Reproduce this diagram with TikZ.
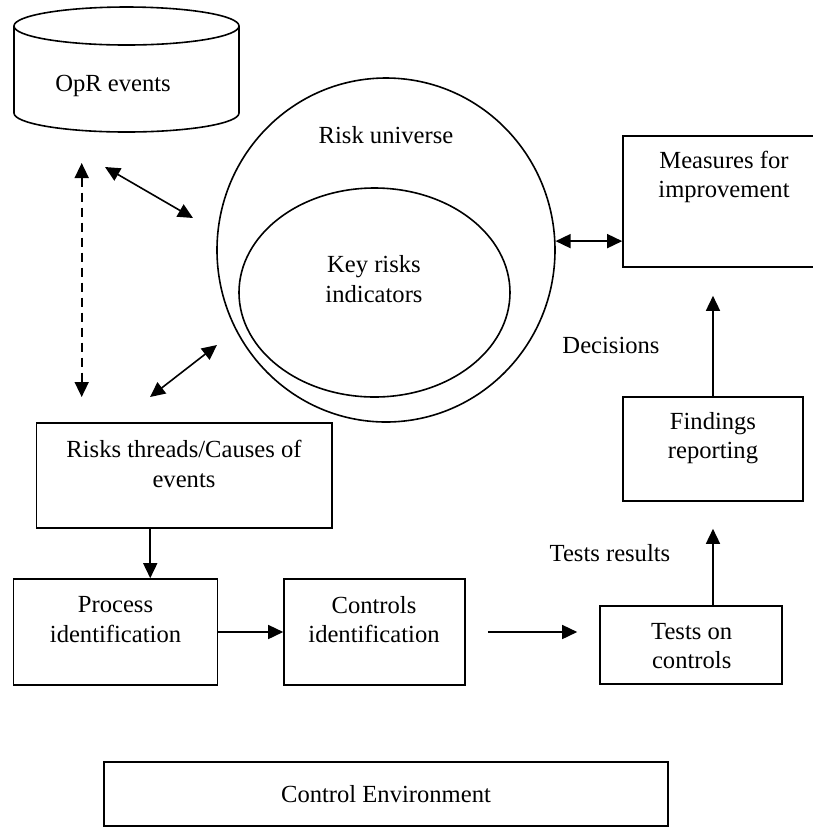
\documentclass[tikz,border=0pt]{standalone}
\usepackage{fontspec}
\setmainfont{Liberation Serif}
\usepackage{tikz}
\usetikzlibrary{shapes,arrows.meta,positioning,calc}
\usepackage{xcolor}

\tikzset{
    box/.style={draw, line width=0.8pt, inner sep=0pt},
    txt/.style={font=\fontsize{12.3}{14.8}\selectfont, align=center, inner sep=0pt},
    link/.style={line width=0.8pt, -{Triangle[length=7.5pt,width=7pt]}},
    dlink/.style={line width=0.8pt, {Triangle[length=7.5pt,width=7pt]}-{Triangle[length=7.5pt,width=7pt]}}
}

\begin{document}
\begin{tikzpicture}[x=0.5pt, y=-0.5pt]
                    \useasboundingbox (0,0) rectangle (813,827);
                    \clip (0,0) rectangle (813,827);
                    % database
                    \draw[line width=0.8pt] (14,26) -- (14,113) arc[start angle=180, end angle=0, x radius=112.5, y radius=19] -- (239,26);
                    \draw[line width=0.8pt] (126.5,26) ellipse[x radius=112.5, y radius=19];
                    \node[txt] (opr) at (113,86) {OpR events};
                    % risk universe
                    \node[box, ellipse, minimum width=338pt*0.5, minimum height=344pt*0.5] (universe) at (386,250) {};
                    \node[box, ellipse, minimum width=271pt*0.5, minimum height=209pt*0.5] (kri) at (374.5,292.5) {};
                    \node[txt] (universe-t) at (386,135) {Risk universe};
                    \node[txt] (kri-t) at (374,279) {Key risks\\indicators};
                    % boxes
                    \node[box, minimum width=113.5pt, minimum height=65.5pt] (measures) at (736.5,201.5) {};
                    \node[box, minimum width=90pt, minimum height=52pt] (findings) at (713,449) {};
                    \node[box, minimum width=147.75pt, minimum height=52.5pt] (risks) at (184.25,475.5) {};
                    \node[box, minimum width=102pt, minimum height=53pt] (process) at (115.6,632) {};
                    \node[box, minimum width=90.5pt, minimum height=53pt] (controls) at (374.5,632) {};
                    \node[box, minimum width=91pt, minimum height=39pt] (tests) at (691,645) {};
                    \node[box, minimum width=282pt, minimum height=32pt] (environment) at (386,794) {};
                    \node[txt] (measures-t) at (724,177) {Measures for\\improvement};
                    \node[txt] (findings-t) at (713,438) {Findings\\reporting};
                    \node[txt] (risks-t) at (184,464) {Risks threads/Causes of\\events};
                    \node[txt] (process-t) at (115.5,619.5) {Process\\identification};
                    \node[txt] (controls-t) at (374,619.5) {Controls\\identification};
                    \node[txt] (tests-t) at (691.7,646) {Tests on\\controls};
                    \node[txt] (environment-t) at (386,794) {Control Environment};
                    \node[txt] (decisions) at (611,345) {Decisions};
                    \node[txt] (results) at (610,553) {Tests results};
                    % free arrows around the universe
                    \coordinate (dash-a) at (81.7,163);
                    \coordinate (dash-b) at (81.7,397);
                    \coordinate (up-a) at (105,167);
                    \coordinate (up-b) at (193,218);
                    \coordinate (low-a) at (217,345);
                    \coordinate (low-b) at (150,397);
                    \draw[dlink, dashed, dash pattern=on 4.5pt off 3pt] (dash-a) -- (dash-b);
                    \draw[dlink] (up-a) -- (up-b);
                    \draw[dlink] (low-a) -- (low-b);
                    \draw[dlink] (universe.3) -- (universe.3 -| measures.west);
                    % flow
                    \draw[link] ([xshift=-17pt]risks.south) -- ([xshift=-17pt]risks.south |- process.north);
                    \draw[link] (process) -- (controls);
                    \draw[link] ([xshift=11pt]controls.east) -- ([xshift=-11pt]tests.west |- controls.east);
                    \draw[link] (findings.south |- tests.north) -- ([yshift=-13.5pt]findings.south);
                    \draw[link] (findings.north) -- ([yshift=-14pt]findings.north |- measures.south);
                \end{tikzpicture}
\end{document}
